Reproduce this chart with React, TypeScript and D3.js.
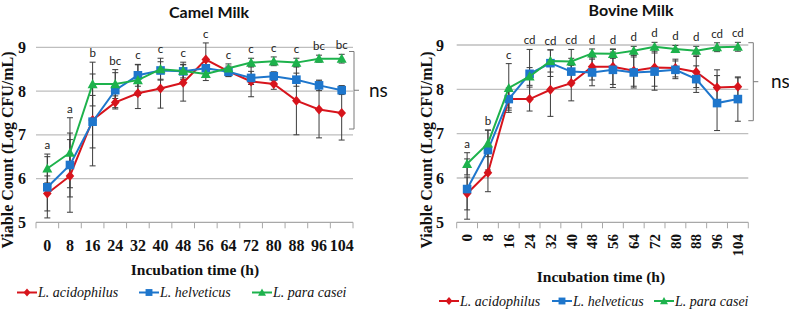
import React from 'react';
import * as d3 from 'd3';

const hours = [0, 8, 16, 24, 32, 40, 48, 56, 64, 72, 80, 88, 96, 104];
const yTicks = [5, 6, 7, 8, 9];
const seriesNames = ['L. acidophilus', 'L. helveticus', 'L. para casei'];

// Camel milk
const camelAcid = [5.66, 6.06, 7.34, 7.74, 7.95, 8.06, 8.19, 8.72, 8.45, 8.22, 8.16, 7.78, 7.58, 7.5];
const camelAcidErr = [0.4, 0.83, 1.05, 0.15, 0.35, 0.45, 0.42, 0.38, 0.12, 0.35, 0.12, 0.78, 0.65, 0.62];
const camelHelv = [5.8, 6.31, 7.3, 8.02, 8.36, 8.47, 8.45, 8.52, 8.44, 8.3, 8.34, 8.26, 8.13, 8.02];
const camelHelvErr = [0.7, 0.73, 0.6, 0.4, 0.25, 0.2, 0.15, 0.15, 0.1, 0.15, 0.1, 0.15, 0.12, 0.1];
const camelPara = [6.23, 6.59, 8.16, 8.16, 8.25, 8.5, 8.46, 8.39, 8.52, 8.65, 8.68, 8.65, 8.74, 8.74];
const camelParaErr = [0.33, 0.8, 0.5, 0.33, 0.35, 0.25, 0.2, 0.15, 0.1, 0.1, 0.1, 0.1, 0.08, 0.1];
const camelLetters = ['a', 'a', 'b', 'bc', 'c', 'c', 'c', 'c', 'c', 'c', 'c', 'c', 'bc', 'bc'];

// Bovine milk
const bovAcid = [5.65, 6.12, 7.78, 7.78, 7.99, 8.14, 8.51, 8.51, 8.42, 8.49, 8.48, 8.39, 8.04, 8.06];
const bovAcidErr = [0.37, 0.43, 0.25, 0.27, 0.6, 0.4, 0.3, 0.4, 0.35, 0.42, 0.2, 0.35, 0.4, 0.2];
const bovHelv = [5.75, 6.63, 7.78, 8.35, 8.59, 8.4, 8.38, 8.44, 8.38, 8.4, 8.44, 8.23, 7.69, 7.78];
const bovHelvErr = [0.68, 0.45, 0.2, 0.55, 0.3, 0.3, 0.3, 0.4, 0.35, 0.42, 0.2, 0.3, 0.62, 0.5];
const bovPara = [6.32, 6.78, 8.03, 8.29, 8.64, 8.63, 8.81, 8.8, 8.87, 8.96, 8.91, 8.87, 8.95, 8.96];
const bovParaErr = [0.25, 0.3, 0.55, 0.2, 0.25, 0.27, 0.1, 0.1, 0.1, 0.1, 0.08, 0.1, 0.1, 0.1];
const bovLetters = ['a', 'b', 'c', 'cd', 'cd', 'cd', 'd', 'd', 'd', 'd', 'd', 'd', 'cd', 'cd'];

const COLORS = ['#D7141C', '#1E76CC', '#1DB24C'];
const MARKERS = ['diamond', 'square', 'triangle'];
const SERIF = '"Liberation Serif", "Times New Roman", serif';
const SANS = 'Lato, "Open Sans", sans-serif';

function markerPath(type: string, cx: number, cy: number): string {
  if (type === 'diamond') {
    const w = 4.3, h = 5;
    return `M${cx},${cy - h}L${cx + w},${cy}L${cx},${cy + h}L${cx - w},${cy}Z`;
  }
  if (type === 'square') {
    const s = 4.3;
    return `M${cx - s},${cy - s}H${cx + s}V${cy + s}H${cx - s}Z`;
  }
  const w = 5, h = 4.6;
  return `M${cx},${cy - h - 0.5}L${cx + w},${cy + h - 0.5}L${cx - w},${cy + h - 0.5}Z`;
}

type Cfg = {
  title: string;
  titleX: number;
  titleY: number;
  x0: number;
  x1: number;
  yTop: number;
  yBottom: number;
  yLabelX: number;
  yTitleX: number;
  xTitleX: number;
  xTitleY: number;
  rotated: boolean;
  tickLabelY: number;
  values: number[][];
  errs: number[][];
  letters: string[];
  legendY: number;
  legendX: number[];
  bracketX: number;
  bracketTop: number;
  bracketBottom: number;
  nsX: number;
};

function Panel({ cfg }: { cfg: Cfg }) {
  const x = d3.scaleBand<string>().domain(hours.map(String)).range([cfg.x0, cfg.x1]);
  const y = d3.scaleLinear().domain([5, 9]).range([cfg.yBottom, cfg.yTop]);
  const cx = (i: number) => (x(String(hours[i])) as number) + x.bandwidth() / 2;
  const line = d3
    .line<number>()
    .x((_, i) => cx(i))
    .y((d) => y(d));
  const boundaries = d3.range(hours.length + 1).map((i) => cfg.x0 + i * x.bandwidth());
  const bracketMid = (cfg.bracketTop + cfg.bracketBottom) / 2;

  return (
    <g>
      <text x={cfg.titleX} y={cfg.titleY} textAnchor="middle" fontFamily={SANS} fontWeight="bold" fontSize={16} fill="#111">
        {cfg.title}
      </text>
      {yTicks.slice(1).map((t) => (
        <line key={'g' + t} x1={cfg.x0} x2={cfg.x1} y1={y(t)} y2={y(t)} stroke="#BEBEBE" strokeWidth={1.3} />
      ))}
      <line x1={cfg.x0} x2={cfg.x1} y1={y(5)} y2={y(5)} stroke="#A8A8A8" strokeWidth={1.3} />
      {boundaries.map((b, i) => (
        <line key={'t' + i} x1={b} x2={b} y1={y(5)} y2={y(5) + 6} stroke="#A8A8A8" strokeWidth={1} />
      ))}
      {yTicks.map((t) => (
        <text key={'yl' + t} x={cfg.yLabelX} y={y(t)} dy="0.35em" textAnchor="end" fontFamily={SERIF} fontWeight="bold" fontSize={16} fill="#111">
          {t}
        </text>
      ))}
      {hours.map((h, i) =>
        cfg.rotated ? (
          <text
            key={'xl' + h}
            transform={`translate(${cx(i)},${cfg.tickLabelY}) rotate(-90)`}
            dy="0.35em"
            textAnchor="end"
            fontFamily={SERIF}
            fontWeight="bold"
            fontSize={15}
            fill="#111"
          >
            {h}
          </text>
        ) : (
          <text key={'xl' + h} x={cx(i)} y={cfg.tickLabelY} textAnchor="middle" fontFamily={SERIF} fontWeight="bold" fontSize={16} fill="#111">
            {h}
          </text>
        )
      )}
      <text
        transform={`translate(${cfg.yTitleX},${150}) rotate(-90)`}
        textAnchor="middle"
        fontFamily={SERIF}
        fontWeight="bold"
        fontSize={16}
        fill="#111"
      >
        Viable Count (Log CFU/mL)
      </text>
      <text x={cfg.xTitleX} y={cfg.xTitleY} textAnchor="middle" fontFamily={SERIF} fontWeight="bold" fontSize={15.5} fill="#111">
        Incubation time (h)
      </text>
      {/* error bars */}
      {cfg.values.map((vals, s) =>
        vals.map((v, i) => {
          const e = cfg.errs[s][i];
          const px = cx(i);
          return (
            <g key={`e${s}-${i}`} stroke="#3C3C3C" strokeWidth={1}>
              <line x1={px} x2={px} y1={y(v - e)} y2={y(v + e)} />
              <line x1={px - 3} x2={px + 3} y1={y(v - e)} y2={y(v - e)} />
              <line x1={px - 3} x2={px + 3} y1={y(v + e)} y2={y(v + e)} />
            </g>
          );
        })
      )}
      {/* lines and markers */}
      {cfg.values.map((vals, s) => (
        <g key={'s' + s}>
          <path d={line(vals) as string} fill="none" stroke={COLORS[s]} strokeWidth={2} />
          {vals.map((v, i) => (
            <path key={i} d={markerPath(MARKERS[s], cx(i), y(v))} fill={COLORS[s]} />
          ))}
        </g>
      ))}
      {/* significance letters */}
      {cfg.letters.map((l, i) => {
        const top = d3.max(cfg.values.map((vals, s) => vals[i] + cfg.errs[s][i])) as number;
        return (
          <text key={'l' + i} x={cx(i)} y={y(top) - 9} dy="0.35em" textAnchor="middle" fontFamily={SANS} fontSize={11.5} fill="#222">
            {l}
          </text>
        );
      })}
      {/* bracket */}
      <path
        d={`M${cfg.bracketX - 5},${cfg.bracketTop}H${cfg.bracketX}V${cfg.bracketBottom}H${cfg.bracketX - 5}M${cfg.bracketX},${bracketMid}H${cfg.bracketX + 5}`}
        fill="none"
        stroke="#7A7A7A"
        strokeWidth={1}
      />
      <text x={cfg.nsX} y={bracketMid} dy="0.35em" fontFamily={SANS} fontSize={19} fill="#111">
        ns
      </text>
      {/* legend */}
      {seriesNames.map((n, s) => {
        const lx = cfg.legendX[s];
        return (
          <g key={'lg' + s}>
            <line x1={lx} x2={lx + 20} y1={cfg.legendY} y2={cfg.legendY} stroke={COLORS[s]} strokeWidth={2} />
            <path d={markerPath(MARKERS[s], lx + 10, cfg.legendY)} fill={COLORS[s]} transform={`translate(${lx + 10},${cfg.legendY}) scale(0.8) translate(${-(lx + 10)},${-cfg.legendY})`} />
            <text x={lx + 21} y={cfg.legendY} dy="0.33em" fontFamily={SERIF} fontStyle="italic" fontSize={14} fill="#111">
              {n}
            </text>
          </g>
        );
      })}
    </g>
  );
}

const camelCfg: Cfg = {
  title: 'Camel Milk',
  titleX: 209,
  titleY: 18,
  x0: 36,
  x1: 353,
  yTop: 47.3,
  yBottom: 222.3,
  yLabelX: 26,
  yTitleX: 13,
  xTitleX: 195,
  xTitleY: 275,
  rotated: false,
  tickLabelY: 251,
  values: [camelAcid, camelHelv, camelPara],
  errs: [camelAcidErr, camelHelvErr, camelParaErr],
  letters: camelLetters,
  legendY: 292.5,
  legendX: [17, 139, 252],
  bracketX: 354,
  bracketTop: 51.5,
  bracketBottom: 129,
  nsX: 369,
};

const bovCfg: Cfg = {
  title: 'Bovine Milk',
  titleX: 631,
  titleY: 16,
  x0: 456.7,
  x1: 748.3,
  yTop: 45,
  yBottom: 222.3,
  yLabelX: 444,
  yTitleX: 432,
  xTitleX: 601,
  xTitleY: 282,
  rotated: true,
  tickLabelY: 234,
  values: [bovAcid, bovHelv, bovPara],
  errs: [bovAcidErr, bovHelvErr, bovParaErr],
  letters: bovLetters,
  legendY: 301,
  legendX: [439, 552, 654],
  bracketX: 753.3,
  bracketTop: 42.7,
  bracketBottom: 120.7,
  nsX: 771,
};

export default function App() {
  return (
    <svg width={789} height={311} style={{ position: 'absolute', left: 0, top: 0, background: '#fff' }}>
      <rect width={789} height={311} fill="#fff" />
      <Panel cfg={camelCfg} />
      <Panel cfg={bovCfg} />
    </svg>
  );
}
